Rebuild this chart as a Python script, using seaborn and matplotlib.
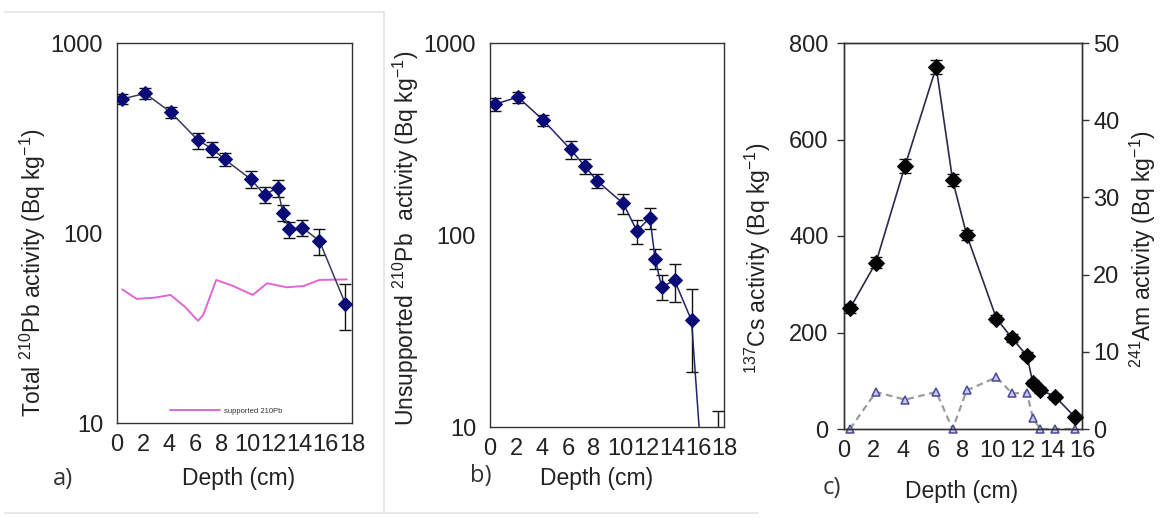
import matplotlib
matplotlib.use("Agg")
import matplotlib.pyplot as plt
import seaborn as sns
import numpy as np
from matplotlib.lines import Line2D
from matplotlib.ticker import NullLocator, FixedLocator

# ---------------- data ----------------
depth = [0.4, 2.15, 4.1, 6.2, 7.3, 8.25, 10.25, 11.3, 12.3, 12.7, 13.2, 14.2, 15.5, 17.5]
total_pb = [507, 543, 433, 308, 277, 244, 192, 159, 173, 128, 104.5, 106.6, 91, 42.3]
total_err = [30, 35, 28, 30, 25, 20, 20, 16, 18, 12, 10, 10, 14, 11.5]

supp_depth = [0.4, 1.5, 2.9, 4.1, 5.2, 6.2, 6.6, 7.6, 8.9, 10.4, 11.5, 13.0, 14.3, 15.5, 17.6]
supp_pb = [50.5, 45, 45.7, 47.2, 40.9, 34.5, 37, 56.6, 52.6, 47.2, 54.4, 51.8, 52.6, 56.6, 57]

unsup_pb = [480, 523, 396, 279, 228, 191, 146, 105, 123, 75.3, 53.6, 58, 35.9, 0.45]
unsup_err = [35, 35, 28, 30, 20, 16, 18, 15, 15, 9, 8, 13, 16.5, 11.7]

cs_depth = depth[:13]
cs137 = [250, 345, 545, 750, 516, 402, 229, 188, 152, 95, 81, 67, 25.5]
cs_err = [10, 12, 14, 15, 12, 10, 8, 8, 7, 6, 6, 5, 4]
am241 = [0, 4.8, 3.8, 4.8, 0, 5.0, 6.7, 4.6, 4.7, 1.4, 0, 0, 0]

ticks_a = list(range(0, 19, 2))
ticks_c = list(range(0, 17, 2))

# ---------------- style ----------------
sns.set_style("white")
plt.rcParams["font.family"] = ["Liberation Sans", "DejaVu Sans"]
plt.rcParams["mathtext.fontset"] = "custom"
plt.rcParams["mathtext.rm"] = "Liberation Sans"
plt.rcParams["mathtext.it"] = "Liberation Sans:italic"
plt.rcParams["mathtext.bf"] = "Liberation Sans:bold"
plt.rcParams["axes.unicode_minus"] = True

TXT = "#222222"
SPINE = "#333333"
W, H = 1161, 518
fig = plt.figure(figsize=(W / 100, H / 100), dpi=100)
fig.patch.set_facecolor("white")


def add_ax(l, t, r, b):
    return fig.add_axes([l / W, 1 - b / H, (r - l) / W, (b - t) / H])


def style(ax):
    for s in ax.spines.values():
        s.set_color(SPINE)
        s.set_linewidth(1.0)
        s.set_visible(True)
    ax.tick_params(axis="both", which="major", direction="out", length=5, width=1,
                   color=SPINE, labelsize=17, labelcolor=TXT)
    ax.tick_params(axis="y", pad=5)
    ax.tick_params(axis="x", pad=3)
    ax.grid(False)


axa = add_ax(117, 43, 352, 423)
axb = add_ax(490, 43, 724, 427)
axc = add_ax(844, 43, 1082, 429)

# ---------------- panel a ----------------
axa.set_yscale("log")
sns.lineplot(x=supp_depth, y=supp_pb, ax=axa, color="#e066d6", lw=1.4,
             sort=False, estimator=None, label="supported 210Pb")
axa.errorbar(depth, total_pb, yerr=total_err, fmt="none", ecolor="#111111",
             elinewidth=1, capsize=4, capthick=1, zorder=3)
sns.lineplot(x=depth, y=total_pb, ax=axa, color="#3a3a55", lw=1.1, marker="D",
             markersize=7.5, markerfacecolor="#0b0b78", markeredgecolor="#0b0b78",
             sort=False, estimator=None, legend=False, zorder=4)
axa.set_xlim(0, 18)
axa.set_ylim(10, 1000)
axa.xaxis.set_major_locator(FixedLocator(ticks_a))
axa.set_xticklabels([str(t) for t in ticks_a])
axa.yaxis.set_major_locator(FixedLocator([10, 100, 1000]))
axa.set_yticklabels(["10", "100", "1000"])
axa.yaxis.set_minor_locator(NullLocator())
style(axa)
axa.set_xlabel("Depth (cm)", fontsize=16.5, color=TXT)
axa.set_ylabel("Total $^{210}$Pb activity (Bq kg$^{-1}$)", fontsize=16.5, color=TXT)
axa.xaxis.set_label_coords(0.519, -0.147)
axa.xaxis.label.set_va("center")
axa.yaxis.set_label_coords(-0.357, 0.395)
axa.yaxis.label.set_va("center")
axa.legend(loc="center left", bbox_to_anchor=(0.2255, 0.0316), frameon=False,
           fontsize=5.5, handlelength=6.5, borderpad=0, borderaxespad=0,
           handletextpad=0.6, labelcolor="#333333")

# ---------------- panel b ----------------
axb.set_yscale("log")
b_lo = np.minimum(np.array(unsup_err), np.array(unsup_pb) * 0.98)
axb.errorbar(depth, unsup_pb, yerr=[b_lo, unsup_err], fmt="none", ecolor="#111111",
             elinewidth=1, capsize=4, capthick=1, zorder=3)
sns.lineplot(x=depth, y=unsup_pb, ax=axb, color="#23236a", lw=1.1, marker="D",
             markersize=7.5, markerfacecolor="#0b0b78", markeredgecolor="#0b0b78",
             sort=False, estimator=None, legend=False, zorder=4)
axb.set_xlim(0, 18)
axb.set_ylim(10, 1000)
axb.xaxis.set_major_locator(FixedLocator(ticks_a))
axb.set_xticklabels([str(t) for t in ticks_a])
axb.yaxis.set_major_locator(FixedLocator([10, 100, 1000]))
axb.set_yticklabels(["10", "100", "1000"])
axb.yaxis.set_minor_locator(NullLocator())
style(axb)
axb.set_xlabel("Depth (cm)", fontsize=16.5, color=TXT)
axb.set_ylabel("Unsupported $^{210}$Pb  activity (Bq kg$^{-1}$)", fontsize=16.5, color=TXT)
axb.xaxis.set_label_coords(0.457, -0.133)
axb.xaxis.label.set_va("center")
axb.yaxis.set_label_coords(-0.359, 0.492)
axb.yaxis.label.set_va("center")

# ---------------- panel c ----------------
ax2 = axc.twinx()
sns.lineplot(x=cs_depth, y=am241, ax=ax2, color="#9c9c9c", lw=1.6,
             linestyle=(0, (3, 2)), marker="^", markersize=6,
             markerfacecolor="#c8c8ee", markeredgecolor="#4a4a9a", markeredgewidth=1.1,
             sort=False, estimator=None, legend=False, clip_on=False)
axc.errorbar(cs_depth, cs137, yerr=cs_err, fmt="none", ecolor="#111111",
             elinewidth=1, capsize=4, capthick=1, zorder=3)
sns.lineplot(x=cs_depth, y=cs137, ax=axc, color="#2a2a4a", lw=1.2, marker="D",
             markersize=8, markerfacecolor="#050505", markeredgecolor="#050505",
             sort=False, estimator=None, legend=False, zorder=4, clip_on=False)
axc.set_zorder(ax2.get_zorder() + 1)
axc.patch.set_visible(False)
axc.set_xlim(0, 16)
axc.set_ylim(0, 800)
ax2.set_ylim(0, 50)
axc.xaxis.set_major_locator(FixedLocator(ticks_c))
axc.set_xticklabels([str(t) for t in ticks_c])
axc.yaxis.set_major_locator(FixedLocator([0, 200, 400, 600, 800]))
axc.set_yticklabels(["0", "200", "400", "600", "800"])
ax2.yaxis.set_major_locator(FixedLocator([0, 10, 20, 30, 40, 50]))
ax2.set_yticklabels(["0", "10", "20", "30", "40", "50"])
style(axc)
style(ax2)
axc.tick_params(axis="y", pad=6)
ax2.tick_params(axis="y", pad=3)
axc.set_xlabel("Depth (cm)", fontsize=16.5, color=TXT)
axc.set_ylabel("$^{137}$Cs activity (Bq kg$^{-1}$)", fontsize=16.5, color=TXT)
ax2.set_ylabel("$^{241}$Am activity (Bq kg$^{-1}$)", fontsize=16.5, color=TXT)
axc.xaxis.set_label_coords(0.492, -0.163)
axc.xaxis.label.set_va("center")
axc.yaxis.set_label_coords(-0.361, 0.443)
axc.yaxis.label.set_va("center")
ax2.yaxis.set_label_coords(1.256, 0.466)
ax2.yaxis.label.set_va("center")
ax2.yaxis.label.set_rotation(90)

# ---------------- panel letters ----------------
for txt, px, py in [("a)", 63, 479), ("b)", 481, 476), ("c)", 832, 488)]:
    fig.text(px / W, 1 - py / H, txt, fontsize=17, color="#333333",
             ha="center", va="center", family=["Open Sans", "DejaVu Sans"])

# ---------------- faint panel frames ----------------
def fline(x0, y0, x1, y1):
    fig.add_artist(Line2D([x0 / W, x1 / W], [1 - y0 / H, 1 - y1 / H],
                          transform=fig.transFigure, color="#e6e6e6", lw=1.3))

fline(5, 12, 384, 12)
fline(384, 12, 384, 513)
fline(5, 513, 758, 513)

fig.savefig("out.png", dpi=100, facecolor="white")
